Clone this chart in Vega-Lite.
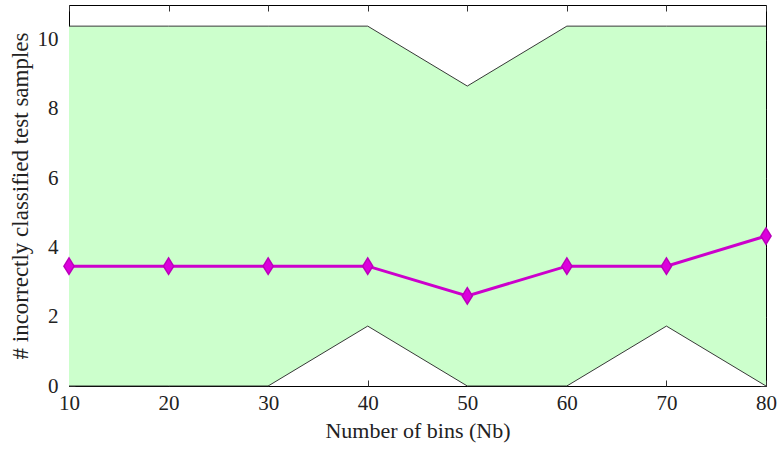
{
  "$schema": "https://vega.github.io/schema/vega-lite/v6.json",
  "width": 697,
  "height": 381,
  "autosize": "none",
  "padding": {"left": 69, "top": 5, "right": 12, "bottom": 73},
  "background": "white",
  "config": {
    "view": {"stroke": "black", "strokeWidth": 1},
    "font": "Liberation Serif",
    "axis": {
      "grid": false,
      "domain": false,
      "tickSize": -6,
      "tickColor": "#333333",
      "labelFlush": false,
      "labelFont": "Liberation Serif",
      "labelFontSize": 21,
      "labelColor": "#222222",
      "titleFont": "Liberation Serif",
      "titleFontSize": 22,
      "titleFontWeight": "normal",
      "titleColor": "#222222"
    }
  },
  "data": {
    "values": [
      {"bins": 10, "mean": 3.46, "lo": 0, "hi": 10.39},
      {"bins": 20, "mean": 3.46, "lo": 0, "hi": 10.39},
      {"bins": 30, "mean": 3.46, "lo": 0, "hi": 10.39},
      {"bins": 40, "mean": 3.46, "lo": 1.73, "hi": 10.39},
      {"bins": 50, "mean": 2.6, "lo": 0, "hi": 8.66},
      {"bins": 60, "mean": 3.46, "lo": 0, "hi": 10.39},
      {"bins": 70, "mean": 3.46, "lo": 1.73, "hi": 10.39},
      {"bins": 80, "mean": 4.33, "lo": 0, "hi": 10.39}
    ]
  },
  "layer": [
    {
      "mark": {"type": "area", "color": "#ccffcc", "opacity": 1},
      "encoding": {
        "x": {"field": "bins", "type": "quantitative", "scale": {"domain": [10, 80], "nice": false},
              "axis": {"values": [10, 20, 30, 40, 50, 60, 70, 80], "title": "Number of bins (Nb)", "labelPadding": 12, "titlePadding": 7, "labelFontSize": 21, "titleFontSize": 22, "labelFont": "Times New Roman", "titleFont": "Times New Roman", "labelFlush": false}},
        "y": {"field": "hi", "type": "quantitative", "scale": {"domain": [0, 11], "nice": false},
              "axis": {"values": [0, 2, 4, 6, 8, 10], "title": "# incorrectly classified test samples", "labelPadding": 17, "titlePadding": 5, "labelFontSize": 21, "titleFontSize": 23, "labelFont": "Times New Roman", "titleFont": "Times New Roman", "labelFlush": false}},
        "y2": {"field": "lo"}
      }
    },
    {
      "mark": {"type": "line", "color": "#222222", "strokeWidth": 0.9},
      "encoding": {
        "x": {"field": "bins", "type": "quantitative", "axis": {"orient": "top", "labels": false, "title": null, "values": [10, 20, 30, 40, 50, 60, 70, 80]}},
        "y": {"field": "hi", "type": "quantitative", "axis": {"orient": "right", "labels": false, "title": null, "values": [0, 2, 4, 6, 8, 10]}}
      }
    },
    {
      "mark": {"type": "line", "color": "#222222", "strokeWidth": 0.9},
      "encoding": {
        "x": {"field": "bins", "type": "quantitative", "axis": null},
        "y": {"field": "lo", "type": "quantitative", "axis": null}
      }
    },
    {
      "mark": {"type": "line", "color": "#cc00cc", "strokeWidth": 3},
      "encoding": {
        "x": {"field": "bins", "type": "quantitative", "axis": null},
        "y": {"field": "mean", "type": "quantitative", "axis": null}
      }
    },
    {
      "mark": {"type": "point", "shape": "M0,-1L0.62,0L0,1L-0.62,0Z", "size": 270, "filled": true, "color": "#dd00dd", "stroke": "#bb00bb", "strokeWidth": 1.5, "opacity": 1},
      "encoding": {
        "x": {"field": "bins", "type": "quantitative", "axis": null},
        "y": {"field": "mean", "type": "quantitative", "axis": null}
      }
    }
  ],
  "resolve": {"axis": {"x": "independent", "y": "independent"}}
}
